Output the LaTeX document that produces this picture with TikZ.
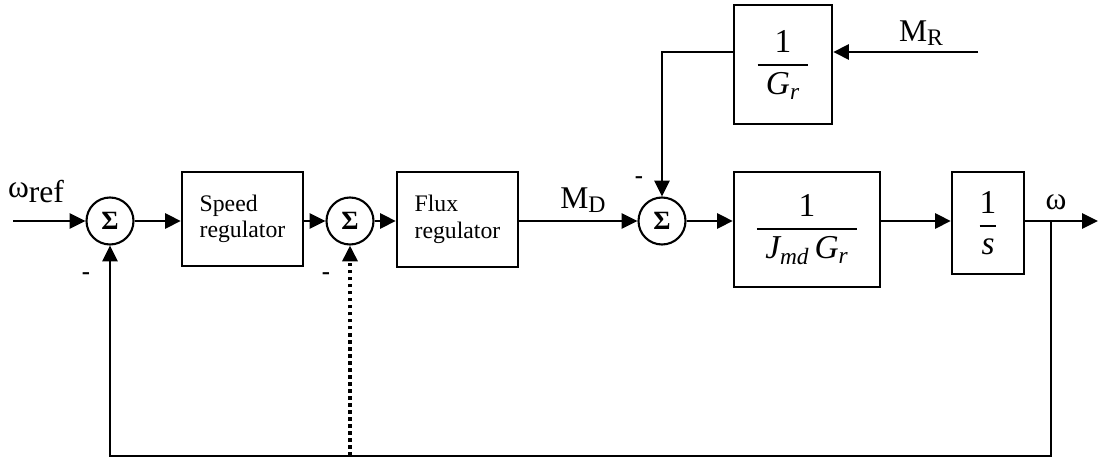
\documentclass[tikz,border=0pt]{standalone}
\usepackage{amsmath}
\usepackage{fontspec}
\setmainfont{Liberation Serif}
\usetikzlibrary{arrows.meta}
\newcommand{\vi}[1]{\text{\itshape #1}}

\begin{document}
\begin{tikzpicture}[x=0.02cm,y=-0.02cm,
    blockbox/.style={draw,line width=1.3pt,inner sep=0pt},
    sumnode/.style={draw,circle,line width=1.2pt,minimum size=0.94cm,inner sep=0pt,font=\fontsize{15}{17}\selectfont\bfseries},
    sig/.style={line width=1.6pt,-{Triangle[length=9pt,width=8.5pt]}},
    lbl/.style={font=\fontsize{18}{20}\selectfont,inner sep=0pt},
    minus/.style={font=\fontsize{14}{16}\selectfont\bfseries,inner sep=0pt},
    fracfont/.style={font=\fontsize{19}{22}\selectfont}]
  \useasboundingbox (0,0) rectangle (1100,459);
  % Summing points
  \node[sumnode] (sum1) at (110,221) {Σ};
  \node[sumnode] (sum2) at (350,221) {Σ};
  \node[sumnode] (sum3) at (662,221) {Σ};
  % Regulators
  \node[blockbox,minimum width=2.42cm,minimum height=1.88cm,align=left,
        font=\fontsize{13.5}{15}\selectfont] (speed) at (242.5,219) {Speed\\regulator};
  \node[blockbox,minimum width=2.42cm,minimum height=1.9cm,align=left,
        font=\fontsize{13.5}{15}\selectfont] (flux) at (457.5,219.5) {Flux\\regulator};
  % Transfer blocks
  \node[blockbox,fracfont,minimum width=2.92cm,minimum height=2.3cm] (plant) at (807,229.5)
    {$\genfrac{}{}{1.2pt}{0}{\text{1}}{\;\vi{J}_{\vi{md}}\,\vi{G}_{\vi{r}}\;}$};
  \node[blockbox,fracfont,minimum width=1.44cm,minimum height=2.04cm] (integ) at (988,223)
    {$\genfrac{}{}{1.2pt}{0}{\text{1}}{\vi{s}}$};
  \node[blockbox,fracfont,minimum width=1.96cm,minimum height=2.38cm] (gain) at (783,64.5)
    {$\genfrac{}{}{1.2pt}{0}{\text{1}}{\;\vi{G}_{\vi{r}}\;}$};
  % Free ends
  \coordinate (in) at (13,221);
  \coordinate (out) at (1098,221);
  \coordinate (branch) at (1051,221);
  \coordinate (fb) at (1051,456);
  \coordinate (dotin) at (350,456);
  \coordinate (mr) at (978,52);
  % Forward path
  \draw[sig] (in) -- (sum1);
  \draw[sig] (sum1) -- (speed.west |- sum1);
  \draw[sig] (speed.east |- sum2) -- (sum2);
  \draw[sig] (sum2) -- (flux.west |- sum2);
  \draw[sig] (flux.east |- sum3) -- (sum3);
  \draw[sig] (sum3) -- (plant.west |- sum3);
  \draw[sig] (plant.east |- sum3) -- (integ.west |- sum3);
  \draw[sig] (integ.east |- out) -- (out);
  % Load torque
  \draw[sig] (mr) -- (gain.east |- mr);
  \draw[sig] (gain.west |- mr) -| (sum3.north);
  % Feedback
  \draw[sig] (branch) -- (fb) -| (sum1.south);
  \draw[sig,line width=2pt,dash pattern=on 2pt off 2pt] (dotin) -- (sum2.south);
  % Labels
  \node[lbl] (wref) at (36,192) {ω\raisebox{-0.4ex}{ref}};
  \node[lbl] (md) at (583,200) {M\raisebox{-0.3ex}{\fontsize{13.5}{15}\selectfont D}};
  \node[lbl] (mrlbl) at (921,33) {M\raisebox{-0.3ex}{\fontsize{13.5}{15}\selectfont R}};
  \node[lbl] (wout) at (1056,202) {ω};
  \node[minus] (neg1) at (86,276) {-};
  \node[minus] (neg2) at (326,276) {-};
  \node[minus] (neg3) at (639,180) {-};
\end{tikzpicture}
\end{document}
